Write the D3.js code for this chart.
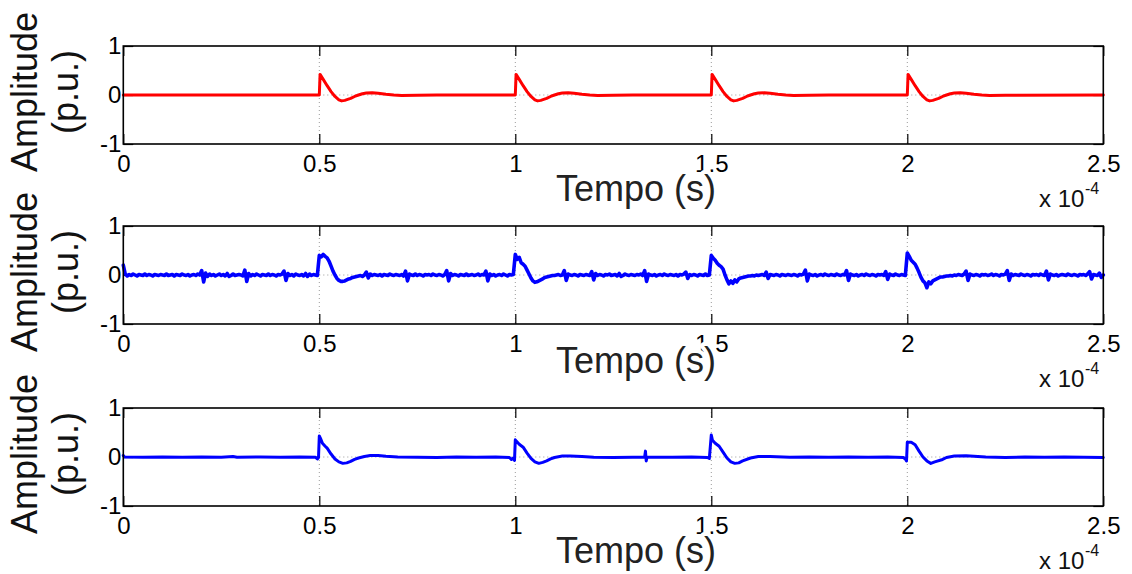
<!DOCTYPE html>
<html><head><meta charset="utf-8">
<script src="https://cdn.jsdelivr.net/npm/d3@7"></script>
<style>
body{margin:0;background:#fff}
svg{display:block}
text{font-family:"Liberation Sans",Arial,Helvetica,sans-serif}
</style>
</head><body>
<svg id="chart" width="1132" height="574"></svg>
<script>
// ---------- data ----------
const xTicks = [0, 0.5, 1, 1.5, 2, 2.5];
const xTickLabels = ["0", "0.5", "1", "1.5", "2", "2.5"];
const yTicks = [-1, 0, 1];
const yTickLabels = ["-1", "0", "1"];
const xGridValues = [0.5, 1, 1.5, 2];
const yGridValues = [0];
const xLabelText = "Tempo (s)";
const yLabelLines = ["Amplitude", "(p.u.)"];
const xScaleBase = "x 10";
const xScaleExp = "-4";

// panel 1: ideal signal, [time (x1e-4 s), amplitude]
const idealSignal = [
 [0,0],[0.5,0],[0.502,0.42],[0.51,0.32],[0.52,0.19],[0.53,0.07],[0.54,-0.03],[0.55,-0.10],[0.557,-0.12],[0.565,-0.11],[0.58,-0.07],[0.59,-0.03],[0.6,0.0],[0.61,0.025],[0.62,0.04],[0.635,0.045],[0.65,0.035],[0.67,0.015],[0.69,0.0],[0.71,-0.01],[0.75,-0.005],[0.8,0],
 [1.0,0],[1.002,0.42],[1.01,0.32],[1.02,0.19],[1.03,0.07],[1.04,-0.03],[1.05,-0.10],[1.057,-0.12],[1.065,-0.11],[1.08,-0.07],[1.09,-0.03],[1.1,0.0],[1.11,0.025],[1.12,0.04],[1.135,0.045],[1.15,0.035],[1.17,0.015],[1.19,0.0],[1.21,-0.01],[1.25,-0.005],[1.3,0],
 [1.5,0],[1.502,0.42],[1.51,0.32],[1.52,0.19],[1.53,0.07],[1.54,-0.03],[1.55,-0.10],[1.557,-0.12],[1.565,-0.11],[1.58,-0.07],[1.59,-0.03],[1.6,0.0],[1.61,0.025],[1.62,0.04],[1.635,0.045],[1.65,0.035],[1.67,0.015],[1.69,0.0],[1.71,-0.01],[1.75,-0.005],[1.8,0],
 [2.0,0],[2.002,0.42],[2.01,0.32],[2.02,0.19],[2.03,0.07],[2.04,-0.03],[2.05,-0.10],[2.057,-0.12],[2.065,-0.11],[2.08,-0.07],[2.09,-0.03],[2.1,0.0],[2.11,0.025],[2.12,0.04],[2.135,0.045],[2.15,0.035],[2.17,0.015],[2.19,0.0],[2.21,-0.01],[2.25,-0.005],[2.5,0]
];

// panel 2: noisy signal, sampled every noisyStep (x1e-4 s) from 0 to 2.5
const noisyStep = 0.005;
const noisyValues = [
 0.20,0.02,-0.02,0.01,-0.01,0.02,0.00,-0.02,0.01,0.00,-0.01,0.02,-0.01,0.01,0.00,-0.02,0.01,0.00,-0.01,0.01,
 0.00,-0.01,0.02,-0.01,0.00,0.01,-0.02,0.01,0.00,-0.01,0.02,0.00,-0.01,0.01,-0.02,0.00,0.01,-0.01,0.02,0.00,
 0.09,-0.14,0.04,-0.03,0.02,-0.01,0.01,-0.02,0.00,0.02,-0.01,0.01,-0.02,0.03,-0.03,-0.01,0.02,-0.01,0.00,0.01,
 0.00,-0.02,0.10,-0.13,0.03,-0.02,0.01,-0.01,0.02,0.00,-0.02,0.01,0.00,-0.01,0.02,-0.01,0.01,0.00,-0.02,0.01,
 0.00,0.02,0.08,-0.11,0.03,-0.01,0.01,-0.02,0.02,0.00,-0.01,0.01,-0.02,0.03,-0.03,0.02,-0.01,0.01,0.00,-0.01,
 0.40,0.37,0.42,0.38,0.35,0.28,0.18,0.08,0.00,-0.07,-0.11,-0.13,-0.13,-0.12,-0.10,-0.08,-0.07,-0.05,-0.04,-0.03,
 -0.02,-0.01,-0.03,0.00,0.06,-0.06,0.02,-0.01,0.01,0.00,-0.01,0.01,-0.02,0.01,0.00,-0.01,0.02,0.00,-0.01,0.01,
 0.00,-0.01,0.01,-0.02,0.08,-0.12,0.02,0.00,-0.01,0.02,-0.01,0.01,0.00,-0.02,0.01,0.00,0.01,-0.01,0.02,0.00,
 -0.01,0.01,0.00,-0.02,0.01,0.09,-0.12,0.03,-0.01,0.01,0.00,-0.02,0.01,0.00,-0.01,0.02,-0.01,0.00,0.01,-0.01,
 0.00,0.02,-0.01,0.01,0.00,0.08,-0.12,0.02,-0.01,0.01,-0.02,0.00,0.01,-0.01,0.02,0.00,-0.02,0.01,0.00,0.01,
 0.42,0.32,0.36,0.25,0.22,0.18,0.10,0.02,-0.06,-0.12,-0.15,-0.14,-0.12,-0.10,-0.08,-0.05,-0.04,-0.03,-0.02,-0.01,
 -0.01,0.00,0.01,-0.01,0.00,0.09,-0.11,0.02,0.00,-0.01,0.01,0.00,-0.02,0.01,0.00,-0.01,0.01,0.00,-0.01,0.07,
 -0.10,0.03,-0.01,0.01,0.00,-0.02,0.01,0.00,0.02,-0.01,0.00,0.01,-0.02,0.03,-0.03,-0.01,0.02,0.00,-0.01,0.01,
 0.00,-0.01,0.01,0.00,0.02,-0.01,0.09,-0.13,0.02,0.00,-0.01,0.01,-0.02,0.00,0.01,-0.01,0.02,0.00,-0.01,0.01,
 0.00,-0.01,0.01,-0.02,0.01,0.00,0.02,0.06,-0.07,0.01,-0.01,0.01,0.00,-0.02,0.01,0.00,-0.01,0.02,-0.01,0.00,
 0.40,0.34,0.30,0.24,0.20,0.17,0.12,0.00,-0.10,-0.18,-0.12,-0.17,-0.10,-0.14,-0.08,-0.06,-0.05,-0.04,-0.03,-0.02,
 -0.02,-0.01,-0.02,0.00,-0.01,0.00,0.01,-0.01,0.06,-0.07,0.01,0.00,-0.01,0.01,0.00,-0.02,0.01,0.00,-0.01,0.01,
 0.00,-0.01,0.01,0.00,-0.02,0.01,0.00,0.02,0.10,-0.12,0.02,0.00,-0.01,0.01,-0.02,0.00,0.01,-0.01,0.02,0.00,
 -0.01,0.01,0.00,-0.01,0.02,0.00,-0.01,0.01,0.00,0.09,-0.11,0.02,0.00,-0.01,0.01,-0.02,0.00,0.01,-0.01,0.02,
 0.00,-0.01,0.01,0.00,-0.02,0.01,0.00,0.01,-0.01,0.07,-0.09,0.02,0.00,-0.01,0.02,0.00,-0.01,0.01,0.00,-0.01,
 0.45,0.38,0.30,0.26,0.22,0.14,0.05,-0.05,-0.12,-0.16,-0.26,-0.14,-0.18,-0.12,-0.10,-0.08,-0.06,-0.04,-0.04,-0.03,
 -0.02,-0.02,-0.01,-0.02,0.00,-0.01,0.01,0.00,-0.01,0.02,0.08,-0.11,0.02,0.00,-0.01,0.01,0.00,-0.02,0.01,0.00,
 0.01,-0.01,0.00,0.02,-0.01,0.01,0.00,-0.02,0.01,0.00,0.02,0.09,-0.11,0.02,-0.01,0.01,0.00,-0.01,0.02,0.00,
 -0.01,0.01,0.00,-0.02,0.01,0.00,0.01,-0.01,0.02,0.00,-0.01,0.08,-0.10,0.02,0.00,-0.01,0.01,-0.02,0.00,0.01,
 0.00,-0.01,0.02,0.00,-0.01,0.01,0.00,-0.02,0.01,0.00,0.01,-0.01,0.02,0.07,-0.08,0.01,0.00,-0.01,0.04,-0.05,0.00
];

// panel 3: filtered signal, [time (x1e-4 s), amplitude]
const filteredSignal = [
 [0,0.03],[0.003,0.0],[0.05,-0.005],[0.1,0.0],[0.15,-0.005],[0.2,0.0],[0.25,-0.005],[0.28,0.01],[0.29,-0.005],[0.35,0.0],[0.4,-0.005],[0.45,0.0],[0.49,-0.005],[0.495,-0.04],[0.498,-0.01],
 [0.5,0.43],[0.503,0.38],[0.508,0.28],[0.515,0.22],[0.52,0.18],[0.53,0.06],[0.54,-0.04],[0.55,-0.10],[0.56,-0.13],[0.57,-0.12],[0.58,-0.09],[0.59,-0.05],[0.6,-0.02],[0.615,0.01],[0.63,0.03],[0.65,0.03],[0.67,0.015],[0.7,0.0],[0.75,-0.005],[0.8,-0.01],[0.85,0.0],[0.9,-0.005],[0.95,0.0],[0.985,-0.01],[0.99,-0.05],[0.995,-0.02],[0.998,-0.07],
 [1.0,0.35],[1.003,0.32],[1.01,0.26],[1.02,0.2],[1.03,0.08],[1.04,-0.03],[1.05,-0.1],[1.06,-0.13],[1.07,-0.11],[1.08,-0.08],[1.09,-0.04],[1.1,-0.01],[1.12,0.02],[1.14,0.02],[1.17,0.01],[1.2,-0.005],[1.25,-0.01],[1.3,-0.005],[1.33,0.0],[1.332,0.12],[1.334,-0.08],[1.336,0.0],[1.4,-0.005],[1.45,0.0],[1.49,-0.01],[1.495,-0.03],
 [1.5,0.45],[1.503,0.34],[1.51,0.28],[1.52,0.22],[1.53,0.1],[1.54,-0.02],[1.55,-0.1],[1.56,-0.13],[1.57,-0.12],[1.58,-0.08],[1.6,-0.02],[1.62,0.01],[1.65,0.01],[1.7,-0.005],[1.75,0.0],[1.8,-0.005],[1.85,0.0],[1.9,-0.005],[1.95,0.0],[1.99,-0.01],[1.995,-0.04],[1.998,-0.08],
 [2.0,0.3],[2.01,0.3],[2.02,0.25],[2.03,0.12],[2.04,0.0],[2.05,-0.08],[2.06,-0.13],[2.07,-0.1],[2.09,-0.05],[2.1,-0.01],[2.12,0.02],[2.15,0.025],[2.18,0.01],[2.2,0.0],[2.25,-0.01],[2.3,0.0],[2.35,-0.005],[2.4,0.0],[2.45,-0.005],[2.5,-0.01]
];

// ---------- drawing ----------
const noisySignal = noisyValues.map((v, i) => [i * noisyStep, v]);

const svg = d3.select("#chart");
const left = 123.3, right = 1103.3, panelH = 98;
const x = d3.scaleLinear().domain([0, 2.5]).range([left, right]);

const panels = [
  {top: 46,  data: idealSignal,    color: "#ff0000", width: 3,   labelOff: 57},
  {top: 226, data: noisySignal,    color: "#0000ff", width: 3.6, labelOff: 49},
  {top: 408, data: filteredSignal, color: "#0000ff", width: 3,   labelOff: 57}
];

panels.forEach(p => {
  const bottom = p.top + panelH;
  const y = d3.scaleLinear().domain([-1, 1]).range([bottom, p.top]);
  const g = svg.append("g");

  // grid
  g.selectAll(".gx").data(xGridValues).enter().append("line")
    .attr("x1", d => x(d)).attr("x2", d => x(d))
    .attr("y1", p.top).attr("y2", bottom)
    .attr("stroke", "#9a9a9a").attr("stroke-width", 1).attr("stroke-dasharray", "1,3");
  g.selectAll(".gy").data(yGridValues).enter().append("line")
    .attr("x1", left).attr("x2", right)
    .attr("y1", d => y(d)).attr("y2", d => y(d))
    .attr("stroke", "#9a9a9a").attr("stroke-width", 1).attr("stroke-dasharray", "1,3");

  // axes with inward ticks
  const fmtX = d => xTickLabels[xTicks.indexOf(d)];
  const fmtY = d => yTickLabels[yTicks.indexOf(d)];
  const ax = [
    g.append("g").attr("transform", `translate(0,${bottom})`)
      .call(d3.axisBottom(x).tickValues(xTicks).tickFormat(fmtX).tickSizeInner(-10).tickSizeOuter(0).tickPadding(11)),
    g.append("g").attr("transform", `translate(0,${p.top})`)
      .call(d3.axisTop(x).tickValues(xTicks).tickFormat("").tickSizeInner(-10).tickSizeOuter(0)),
    g.append("g").attr("transform", `translate(${left},0)`)
      .call(d3.axisLeft(y).tickValues(yTicks).tickFormat(fmtY).tickSizeInner(-10).tickSizeOuter(0).tickPadding(2)),
    g.append("g").attr("transform", `translate(${right},0)`)
      .call(d3.axisRight(y).tickValues(yTicks).tickFormat("").tickSizeInner(-10).tickSizeOuter(0))
  ];
  ax.forEach(a => {
    a.select(".domain").remove();
    a.selectAll("line").attr("stroke", "#000").attr("stroke-width", 1.2);
    a.selectAll("text").attr("fill", "#000").style("font-size", "24px")
      .style("font-family", '"Liberation Sans",Arial,sans-serif');
  });

  // signal
  g.append("path").datum(p.data)
    .attr("d", d3.line().x(d => x(d[0])).y(d => y(d[1])))
    .attr("fill", "none").attr("stroke", p.color).attr("stroke-width", p.width)
    .attr("stroke-linejoin", "round").attr("stroke-linecap", "round");

  // box
  g.append("rect").attr("x", left).attr("y", p.top)
    .attr("width", right - left).attr("height", panelH)
    .attr("fill", "none").attr("stroke", "#000").attr("stroke-width", 1.6);

  // y label (two lines)
  const cy = p.top + panelH / 2 - 3;
  [37, 78].forEach((bx, i) => {
    svg.append("text").attr("transform", `translate(${bx},${cy}) rotate(-90)`)
      .attr("text-anchor", "middle").style("font-size", "36px").attr("fill", "#111")
      .text(yLabelLines[i]);
  });

  // x label with white halo (hides the tick label's dot like the reference)
  svg.append("text").attr("x", 636).attr("y", bottom + p.labelOff)
    .attr("text-anchor", "middle").style("font-size", "36px").attr("fill", "#222")
    .attr("stroke", "#fff").attr("stroke-width", 8).attr("paint-order", "stroke")
    .attr("stroke-linejoin", "round")
    .text(xLabelText);

  // exponent
  svg.append("text").attr("x", 1039).attr("y", bottom + 63)
    .style("font-size", "24px").attr("fill", "#111").text(xScaleBase);
  svg.append("text").attr("x", 1085).attr("y", bottom + 50)
    .style("font-size", "16px").attr("fill", "#111").text(xScaleExp);
});
</script>
</body></html>
